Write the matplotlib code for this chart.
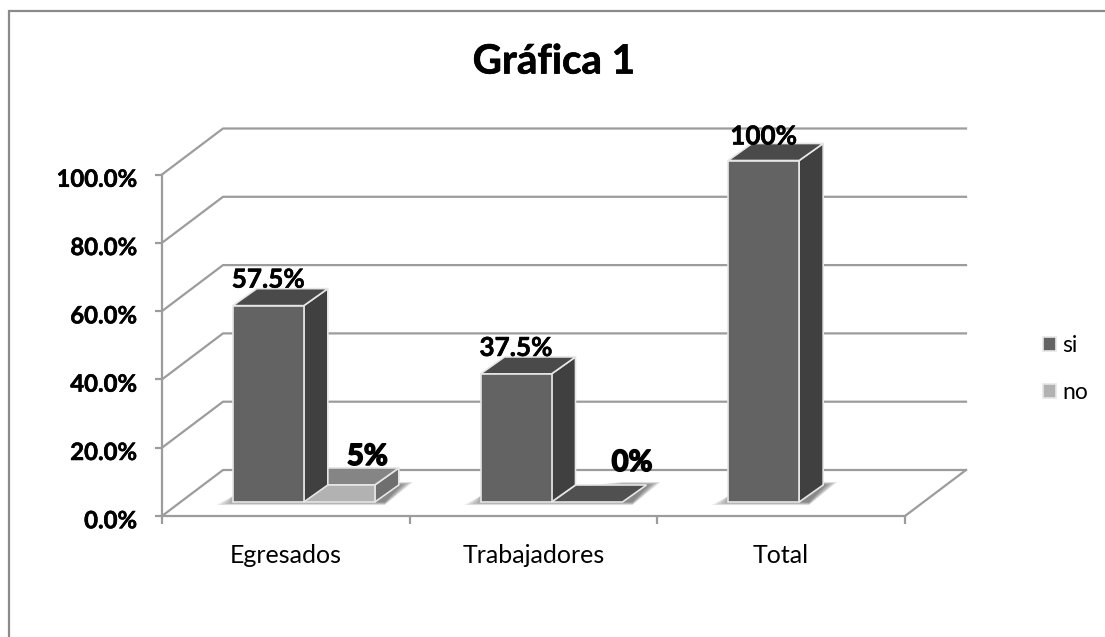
import matplotlib
matplotlib.use('Agg')
import matplotlib.pyplot as plt
import matplotlib.patheffects as pe
from matplotlib.lines import Line2D
from matplotlib.patches import Polygon
from matplotlib.transforms import ScaledTranslation

categories = ['Egresados', 'Trabajadores', 'Total']
si_values = [57.5, 37.5, 100]
no_values = [5, 0, None]
si_labels = ['57.5%', '37.5%', '100%']
no_labels = ['5%', '0%', None]
y_ticks = [0, 20, 40, 60, 80, 100]
y_tick_labels = ['0.0%', '20.0%', '40.0%', '60.0%', '80.0%', '100.0%']

W, H = 1105, 637
plt.rcParams['font.family'] = ['Lato', 'DejaVu Sans']

GRID = '#9c9c9c'
EDGE = '#e6e6e6'
SI = ('#636363', '#404040', '#4a4a4a')
NO = ('#b2b2b2', '#6f6f6f', '#858585')
ZERO_TOP = '#505050'

fig = plt.figure(figsize=(W / 100, H / 100), dpi=100)
# plot area in pixels: x 162..905, y 516..174.5
ax = fig.add_axes([162 / W, (H - 516) / H, (905 - 162) / W, (516 - 174.5) / H])
ax.set_xlim(0, 3)
ax.set_ylim(0, 100)

# pixel -> data sizes for the fake 3D depth
px_x = 3 / (905 - 162)
px_y = 100 / (516 - 174.5)
wall_dx, wall_dy = 61 * px_x, 46 * px_y
bar_dx, bar_dy = 24 * px_x, 17 * px_y
floor_dx, floor_dy = 18 * px_x, 14 * px_y
bar_w = 71 * px_x


def poly(points, color, z, edge=EDGE, lw=1.2, alpha=None, label=None):
    p = Polygon(points, closed=True, facecolor=color, edgecolor=edge, linewidth=lw,
                zorder=z, clip_on=False, alpha=alpha, label=label)
    ax.add_patch(p)


def shadow(x0, x1, z):
    # soft shadow under the bar, a few see-through layers
    for i in range(7):
        g = i * 2 * px_x
        h = i * 0.5 * px_y
        poly([(x0 - 16 * px_x + 2 * g, floor_dy - 3 * px_y + h),
              (x1 + 10 * px_x, floor_dy - 3 * px_y + h),
              (x1 + 38 * px_x - g, floor_dy + 20 * px_y - h),
              (x1, floor_dy + 20 * px_y - h),
              (x0, floor_dy + 6 * px_y)],
             '#444444', z, edge='none', lw=0, alpha=0.13)


def bar_3d(x0, value, colors, z, label=None):
    front, side, top = colors
    x1 = x0 + bar_w
    y0 = floor_dy
    y1 = floor_dy + value
    poly([(x1, y0), (x1 + bar_dx, y0 + bar_dy), (x1 + bar_dx, y1 + bar_dy), (x1, y1)], side, z)
    poly([(x0, y1), (x1, y1), (x1 + bar_dx, y1 + bar_dy), (x0 + bar_dx, y1 + bar_dy)], top, z)
    poly([(x0, y0), (x1, y0), (x1, y1), (x0, y1)], front, z + 0.5, label=label)


# walls and floor
for t in y_ticks:
    ax.add_line(Line2D([0, wall_dx, 3 + wall_dx], [t, t + wall_dy, t + wall_dy],
                       color=GRID, lw=1.6, clip_on=False, zorder=1))
ax.add_line(Line2D([3, 3 + wall_dx], [0, wall_dy], color=GRID, lw=1.6, clip_on=False, zorder=1))

# bars, back to front from left to right
for i, cat in enumerate(categories):
    x_si = i + 0.5 + floor_dx - bar_w
    x_no = x_si + bar_w
    last = x_si + bar_w if no_values[i] is None else x_no + bar_w
    shadow(x_si, last, 2)
    if no_values[i] is not None:
        if no_values[i] > 0:
            bar_3d(x_no, no_values[i], NO, 3, label='no' if i == 0 else None)
        else:
            poly([(x_no, floor_dy), (x_no + bar_w, floor_dy),
                  (x_no + bar_w + bar_dx, floor_dy + bar_dy), (x_no + bar_dx, floor_dy + bar_dy)],
                 ZERO_TOP, 3)
    bar_3d(x_si, si_values[i], SI, 4, label='si' if i == 0 else None)

# data labels
label_font = dict(fontweight='bold', color='black', ha='center', va='center', zorder=6)
si_shift = [26, 26, 24]
no_shift = [(28, 28), (45, 39)]
for i, txt in enumerate(si_labels):
    x = i + 0.5 + floor_dx - bar_w / 2
    ax.annotate(txt, (x, floor_dy + si_values[i]), xytext=(0, si_shift[i] * 0.72),
                textcoords='offset points', annotation_clip=False, fontsize=18.8,
                path_effects=[pe.withStroke(linewidth=0.4, foreground='black')], **label_font)
for i, txt in enumerate(no_labels):
    if txt is None:
        continue
    x = i + 0.5 + floor_dx + bar_w / 2
    ax.annotate(txt, (x, floor_dy + no_values[i]),
                xytext=(no_shift[i][0] * 0.72, no_shift[i][1] * 0.72),
                textcoords='offset points', annotation_clip=False, fontsize=21,
                path_effects=[pe.withStroke(linewidth=1.2, foreground='black')], **label_font)

# axes
for s in ['top', 'right']:
    ax.spines[s].set_visible(False)
for s in ['left', 'bottom']:
    ax.spines[s].set_color(GRID)
    ax.spines[s].set_linewidth(1.6)
ax.patch.set_visible(False)
ax.set_yticks(y_ticks)
ax.set_yticklabels(y_tick_labels, fontsize=17.2, fontweight='bold')
ax.tick_params(axis='y', length=5, width=1.6, color=GRID, pad=13)
for lab in ax.get_yticklabels():
    lab.set_transform(lab.get_transform() + ScaledTranslation(0, -2 / 72, fig.dpi_scale_trans))
    lab.set_path_effects([pe.withStroke(linewidth=0.4, foreground='black')])
ax.set_xticks([0, 1, 2, 3])
ax.set_xticklabels([])
ax.set_xticks([0.5, 1.5, 2.5], minor=True)
ax.set_xticklabels(categories, minor=True, fontsize=18)
ax.tick_params(axis='x', which='major', length=6, width=1.6, color=GRID)
ax.tick_params(axis='x', which='minor', length=0, pad=20.5)

handles, labels = ax.get_legend_handles_labels()
order = [labels.index('si'), labels.index('no')]
fig.legend([handles[k] for k in order], [labels[k] for k in order],
           loc='center left', bbox_to_anchor=(1043 / W, 1 - 369 / H), frameon=False,
           fontsize=16.5, handlelength=0.55, handleheight=0.55, handletextpad=0.3,
           labelspacing=1.15, borderpad=0, borderaxespad=0)

title = fig.text(554 / W, 1 - 62 / H, 'Gráfica 1', fontsize=29, fontweight='bold', ha='center', va='center')
title.set_path_effects([pe.withStroke(linewidth=0.5, foreground='black')])

# chart frame, only the top and left edges show
fig.add_artist(Line2D([9 / W, 9 / W, 1], [0, 1 - 11 / H, 1 - 11 / H], transform=fig.transFigure,
                      color='#8a8a8a', lw=1.6, solid_joinstyle='miter'))

fig.savefig('out.png', dpi=100)
